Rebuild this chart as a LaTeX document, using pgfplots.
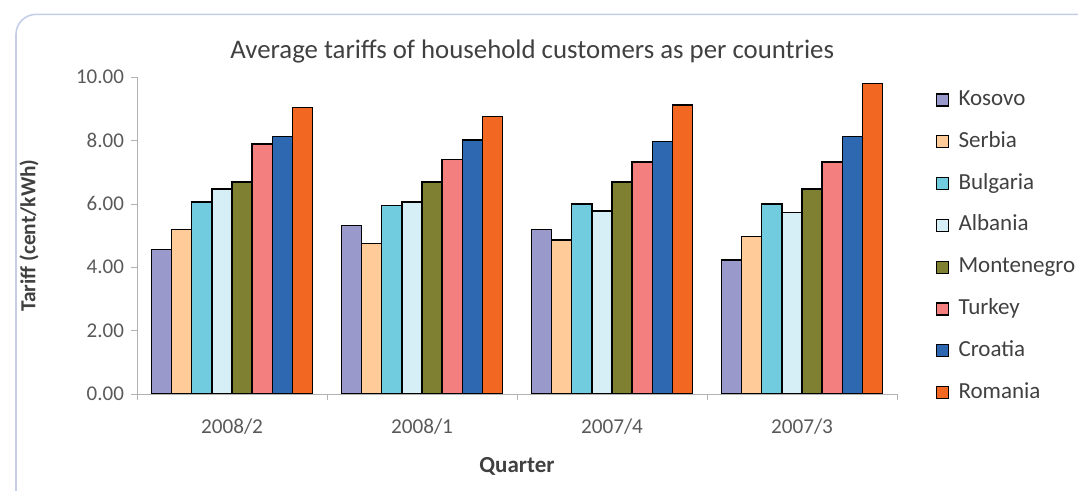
\documentclass[border=0pt]{standalone}
\usepackage{pgfplots}
\pgfplotsset{compat=1.18}
\usepackage{fontspec}
\setmainfont{Carlito}

\definecolor{cKos}{RGB}{153,153,204}
\definecolor{cSer}{RGB}{255,204,153}
\definecolor{cBul}{RGB}{112,204,222}
\definecolor{cAlb}{RGB}{214,238,245}
\definecolor{cMon}{RGB}{128,128,51}
\definecolor{cTur}{RGB}{244,127,127}
\definecolor{cCro}{RGB}{46,104,176}
\definecolor{cRom}{RGB}{242,103,34}
\definecolor{cTxt}{RGB}{64,64,64}
\definecolor{cTick}{RGB}{89,89,89}
\definecolor{cFrame}{RGB}{196,206,230}

\begin{document}
\begin{tikzpicture}
\useasboundingbox (0,0) rectangle (539pt,245.5pt);
\begin{scope}
\clip (0,0) rectangle (539pt,245.5pt);
\draw[cFrame, line width=0.8pt, rounded corners=10pt] (8pt,-20pt) rectangle (570pt,238.3pt);
\end{scope}
\begin{axis}[
  at={(68.5pt,48.5pt)}, anchor=south west,
  scale only axis, width=380pt, height=158.5pt,
  ybar=0pt, bar width=0.106,
  xmin=-0.5, xmax=3.5, ymin=0, ymax=10,
  axis lines*=left,
  axis line style={draw=gray!60},
  xtick={0,1,2,3},
  xticklabels={2008/2,2008/1,2007/4,2007/3},
  minor xtick={-0.5,0.5,1.5,2.5,3.5},
  major x tick style={draw=none},
  minor x tick style={draw=gray!60},
  ytick={0,2,4,6,8,10},
  ytick style={draw=gray!60},
  tick align=outside, major tick length=3pt, minor tick length=3pt,
  yticklabel style={/pgf/number format/fixed, /pgf/number format/fixed zerofill, /pgf/number format/precision=2, font=\fontsize{10.5}{12}\selectfont, color=cTick},
  xticklabel style={font=\fontsize{10.6}{12}\selectfont, color=cTick, yshift=-6pt},
  /pgf/number format/assume math mode=true,
  title={Average tariffs of household customers as per countries},
  title style={at={(axis description cs:0.52,1.044)}, anchor=center, font=\fontsize{13.4}{15}\selectfont, color=cTxt},
  ylabel={Tariff (cent/kWh)},
  ylabel style={at={(axis description cs:-0.142,0.5)}, anchor=center, font=\bfseries\fontsize{10.7}{12}\selectfont, color=cTxt},
  xlabel={Quarter},
  xlabel style={at={(axis description cs:0.5,-0.227)}, anchor=center, font=\bfseries\fontsize{11.5}{13}\selectfont, color=cTxt},
  every axis plot/.append style={draw=black, line width=0.75pt},
  legend image code/.code={\draw[#1, line width=0.6pt] (0pt,-3pt) rectangle (6pt,3pt); \path (10.5pt,0pt);},
  legend style={at={(axis description cs:1.051,0.962)}, anchor=north west, draw=none, fill=none,
    row sep=10.4pt, inner sep=0pt,
    nodes={inner sep=0pt, text height=8pt, text depth=2.5pt, font=\fontsize{11.5}{13}\selectfont, color=cTxt}},
  legend cell align=left,
]
\addplot[fill=cKos] coordinates {(0,4.56) (1,5.32) (2,5.19) (3,4.23)};
\addplot[fill=cSer] coordinates {(0,5.19) (1,4.74) (2,4.86) (3,4.97)};
\addplot[fill=cBul] coordinates {(0,6.06) (1,5.94) (2,6.00) (3,6.00)};
\addplot[fill=cAlb] coordinates {(0,6.46) (1,6.06) (2,5.77) (3,5.72)};
\addplot[fill=cMon] coordinates {(0,6.69) (1,6.69) (2,6.69) (3,6.47)};
\addplot[fill=cTur] coordinates {(0,7.89) (1,7.39) (2,7.32) (3,7.32)};
\addplot[fill=cCro] coordinates {(0,8.12) (1,8.01) (2,7.96) (3,8.12)};
\addplot[fill=cRom] coordinates {(0,9.03) (1,8.75) (2,9.11) (3,9.79)};
\legend{Kosovo,Serbia,Bulgaria,Albania,Montenegro,Turkey,Croatia,Romania}
\end{axis}
\end{tikzpicture}
\end{document}
